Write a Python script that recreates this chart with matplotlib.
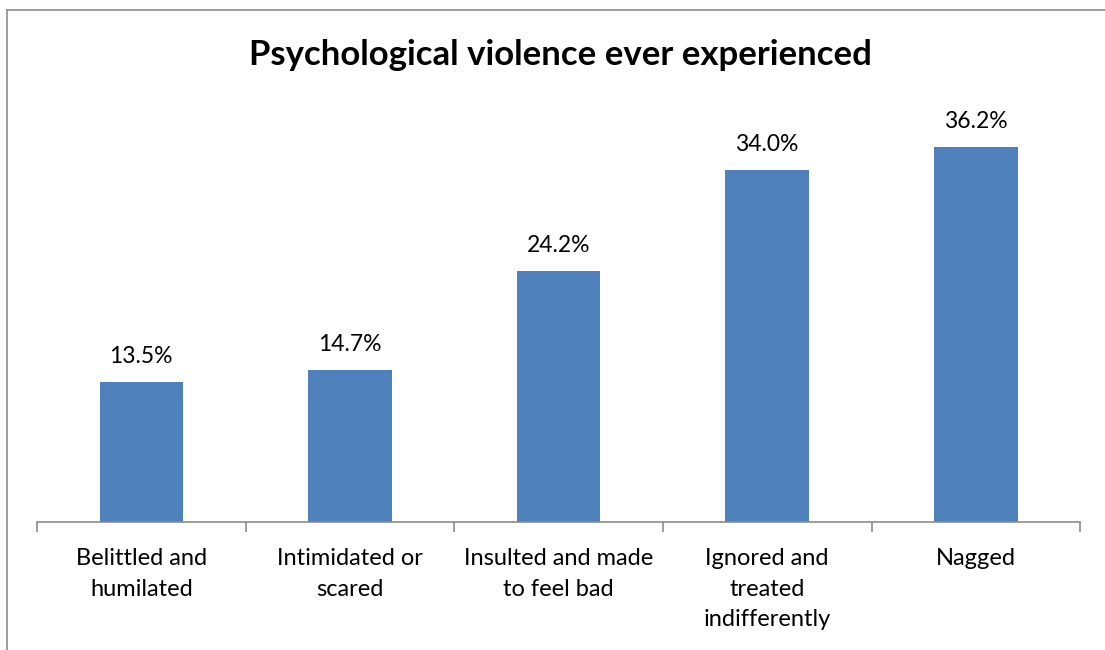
import matplotlib
matplotlib.use("Agg")
import matplotlib.pyplot as plt
from matplotlib.lines import Line2D

categories = [
    "Belittled and\nhumilated",
    "Intimidated or\nscared",
    "Insulted and made\nto feel bad",
    "Ignored and\ntreated\nindifferently",
    "Nagged",
]
values = [13.5, 14.7, 24.2, 34.0, 36.2]

plt.rcParams["font.family"] = ["Lato", "DejaVu Sans"]

fig = plt.figure(figsize=(11.05, 6.5), dpi=100)
ax = fig.add_axes([0.0335, 0.197, 0.944, 0.629])

x = list(range(len(categories)))
bars = ax.bar(x, values, width=0.4, color="#4F81BD", zorder=2)

for rect, v in zip(bars, values):
    ax.annotate(f"{v:.1f}%", (rect.get_x() + rect.get_width() / 2, v),
                xytext=(0, 11), textcoords="offset points",
                ha="center", va="bottom", fontsize=16.5, color="black")

ax.set_xlim(-0.5, len(categories) - 0.5)
ax.set_ylim(0, 39.5)
ax.set_yticks([])

# category boundaries get the tick marks, labels sit in the middle
ax.set_xticks([i - 0.5 for i in range(len(categories) + 1)])
ax.set_xticklabels([])
ax.set_xticks(x, minor=True)
ax.set_xticklabels(categories, minor=True, fontsize=17, linespacing=1.55)
ax.tick_params(axis="x", which="major", length=7, color="#8C8C8C", width=1.2)
ax.tick_params(axis="x", which="minor", length=0, pad=19)

for side in ("top", "right", "left"):
    ax.spines[side].set_visible(False)
ax.spines["bottom"].set_color("#8C8C8C")
ax.spines["bottom"].set_linewidth(1.2)

fig.text(0.507, 0.915, "Psychological violence ever experienced",
         ha="center", va="center", fontsize=25, fontweight="bold")

# chart area frame (only the top and left edges fall inside the image)
fig.add_artist(Line2D([7 / 1105, 7 / 1105], [0, 1 - 10 / 650],
                      transform=fig.transFigure, color="#8C8C8C", lw=1.2))
fig.add_artist(Line2D([7 / 1105, 1], [1 - 10 / 650, 1 - 10 / 650],
                      transform=fig.transFigure, color="#8C8C8C", lw=1.2))

fig.savefig("out.png", dpi=100, facecolor="white")
